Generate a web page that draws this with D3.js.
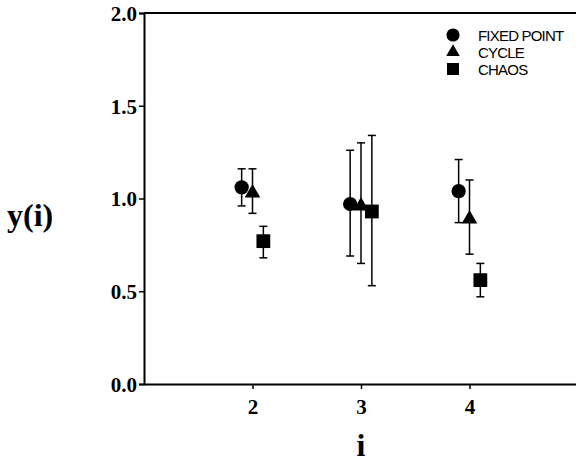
<!DOCTYPE html>
<html>
<head>
<meta charset="utf-8">
<script src="https://cdn.jsdelivr.net/npm/d3@7"></script>
<style>
  body { margin: 0; background: #fff; }
  svg { display: block; }
  .axis text { font-family: "Liberation Serif", "Times New Roman", serif; font-weight: bold; font-size: 21px; }
</style>
</head>
<body>
<div id="chart"></div>
<script>
// Data
const groups = [2, 3, 4];
const series = ["FIXED POINT", "CYCLE", "CHAOS"];
const shapes = [d3.symbolCircle, d3.symbolTriangle, d3.symbolSquare];
const offsets = [-0.1, 0, 0.1];

const fixedMean = [1.06, 0.97, 1.04];
const fixedLow = [0.96, 0.69, 0.87];
const fixedHigh = [1.16, 1.26, 1.21];

const cycleMean = [1.03, 0.96, 0.89];
const cycleLow = [0.92, 0.65, 0.70];
const cycleHigh = [1.16, 1.30, 1.10];

const chaosMean = [0.77, 0.93, 0.56];
const chaosLow = [0.68, 0.53, 0.47];
const chaosHigh = [0.85, 1.34, 0.65];

const yTicks = [0.0, 0.5, 1.0, 1.5, 2.0];
const xTicks = [2, 3, 4];

const means = [fixedMean, cycleMean, chaosMean];
const lows = [fixedLow, cycleLow, chaosLow];
const highs = [fixedHigh, cycleHigh, chaosHigh];

// Dimensions
const width = 576, height = 462;
const margins = { top: 13, bottom: 78, left: 144, right: -2 };

const svg = d3.select("#chart")
  .append("svg")
  .attr("width", width)
  .attr("height", height);

const x = d3.scaleLinear().domain([1, 5]).range([margins.left, width - margins.right]);
const y = d3.scaleLinear().domain([0, 2]).range([height - margins.bottom, margins.top]);

// Axes
const yAxis = svg.append("g")
  .attr("class", "axis")
  .attr("transform", "translate(" + margins.left + ",0)")
  .call(d3.axisLeft(y).tickValues(yTicks).tickFormat(d3.format(".1f")).tickSize(5).tickPadding(2));

const xAxis = svg.append("g")
  .attr("class", "axis")
  .attr("transform", "translate(0," + y(0) + ")")
  .call(d3.axisBottom(x).tickValues(xTicks).tickFormat(d3.format("d")).tickSize(5).tickSizeOuter(0).tickPadding(10));

[yAxis, xAxis].forEach(g => {
  g.attr("font-family", null).attr("font-size", null);
  g.select(".domain").attr("stroke", "#000").attr("stroke-width", 2);
  g.selectAll(".tick line").attr("stroke", "#000").attr("stroke-width", 1.5);
  g.selectAll(".tick text").attr("fill", "#000");
});
yAxis.selectAll(".tick text").attr("dy", "0.35em");

// top frame line
svg.append("line")
  .attr("x1", x(1)).attr("x2", width)
  .attr("y1", y(2)).attr("y2", y(2))
  .attr("stroke", "#000").attr("stroke-width", 2);

// Error bars and markers
const plot = svg.append("g");
series.forEach((name, s) => {
  groups.forEach((g, i) => {
    const cx = x(g + offsets[s]);
    const bar = plot.append("g").attr("stroke", "#000").attr("stroke-width", 1.5);
    bar.append("line")
      .attr("x1", cx).attr("x2", cx)
      .attr("y1", y(lows[s][i])).attr("y2", y(highs[s][i]));
    [lows[s][i], highs[s][i]].forEach(v => {
      bar.append("line")
        .attr("x1", cx - 4).attr("x2", cx + 4)
        .attr("y1", y(v)).attr("y2", y(v));
    });
    plot.append("path")
      .attr("d", d3.symbol().type(shapes[s]).size(s === 0 ? 160 : s === 1 ? 105 : 190)())
      .attr("transform", "translate(" + cx + "," + y(means[s][i]) + ")")
      .attr("fill", "#000");
  });
});

// Legend
const legend = svg.append("g").attr("transform", "translate(453,35)");
series.forEach((name, s) => {
  const row = legend.append("g").attr("transform", "translate(0," + s * 17 + ")");
  row.append("path")
    .attr("d", d3.symbol().type(shapes[s]).size(s === 0 ? 135 : s === 1 ? 80 : 144)())
    .attr("fill", "#000");
  row.append("text")
    .attr("x", 25)
    .attr("y", 5.5)
    .style("font-family", "'Liberation Sans', Arial, sans-serif")
    .style("font-size", "15px")
    .style("letter-spacing", "-0.8px")
    .text(name);
});

// Axis titles
svg.append("text")
  .attr("x", 7)
  .attr("y", 226)
  .style("font-family", "'Liberation Serif', 'Times New Roman', serif")
  .style("font-weight", "bold")
  .style("font-size", "32px")
  .text("y(i)");

svg.append("text")
  .attr("x", x(3))
  .attr("y", 456)
  .attr("text-anchor", "middle")
  .style("font-family", "'Liberation Serif', 'Times New Roman', serif")
  .style("font-weight", "bold")
  .style("font-size", "32px")
  .text("i");
</script>
</body>
</html>
